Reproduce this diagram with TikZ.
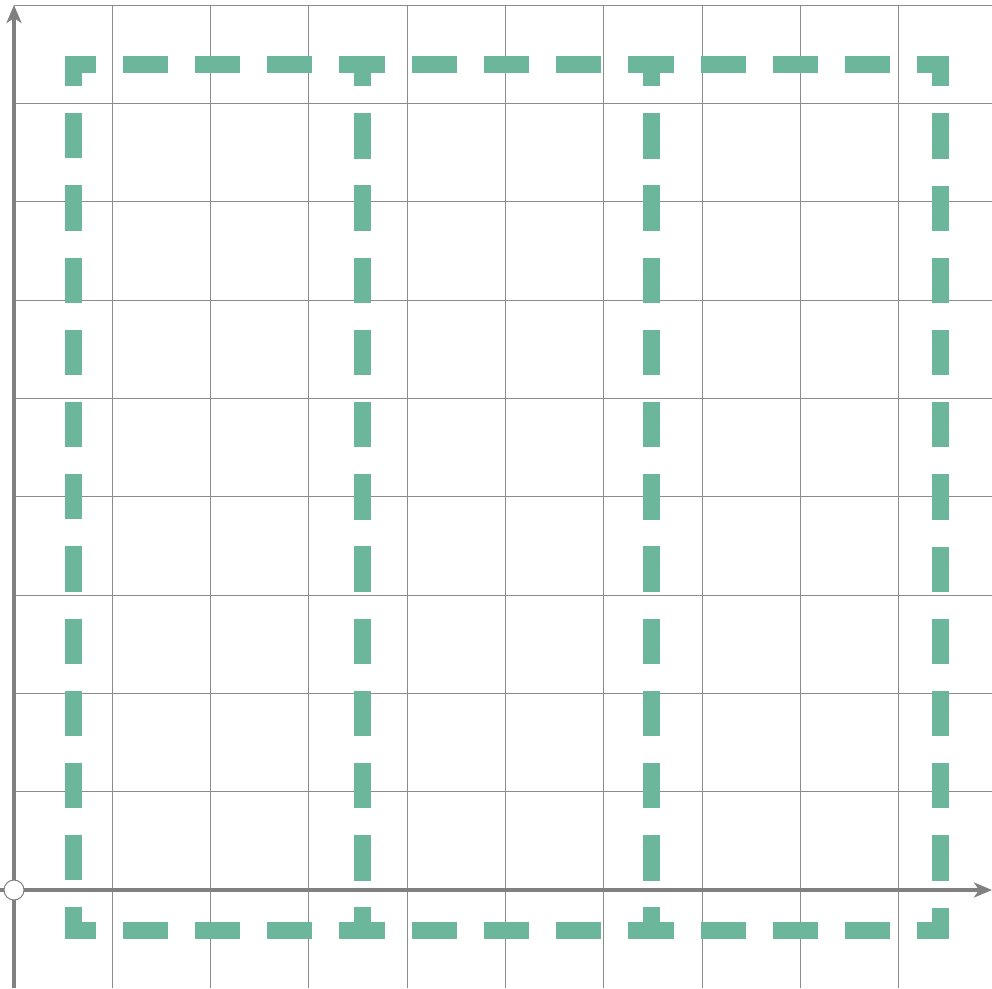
\documentclass[tikz,border=0pt]{standalone}
\usetikzlibrary{arrows.meta}
\definecolor{grn}{HTML}{6CB69B}
\definecolor{axisgray}{HTML}{808080}
\definecolor{gridgray}{HTML}{8C8C8C}
\tikzset{
  gridline/.style={draw=gridgray, line width=0.9pt},
  axisline/.style={draw=axisgray, line width=4pt, -{Stealth[length=18pt,width=15pt,inset=5pt]}},
  greenbox/.style={draw=grn, line width=17pt, dash pattern=on 45.2pt off 27pt, dash phase=58.6pt, miter limit=10}
}
\begin{document}
\begin{tikzpicture}[x=1pt,y=-1pt]
\useasboundingbox (0,0) rectangle (992,988);
% grid
\foreach \k in {1,...,9} {
  \draw[gridline] ({14+\k*98.3},6) -- ({14+\k*98.3},988);
  \draw[gridline] (14,{890-\k*98.3}) -- (992,{890-\k*98.3});
}
% green dashed rectangles (each path starts inside a gap so every corner is mitred)
\foreach \xa/\xb in {73/362, 362/651, 651/940} {
  \draw[greenbox] ({\xa+36},64) -- (\xb,64) -- (\xb,930) -- (\xa,930) -- (\xa,64) -- cycle;
}
% axes
\coordinate (ybot) at (14,988);
\coordinate (ytop) at (14,5);
\coordinate (xleft) at (0,890);
\coordinate (xright) at (992,890);
\draw[axisline] (ybot) -- (ytop);
\draw[axisline] (xleft) -- (xright);
\node[circle, draw=axisgray, fill=white, line width=1pt, minimum size=20pt, inner sep=0pt] (origin) at (14,890) {};
\end{tikzpicture}
\end{document}
